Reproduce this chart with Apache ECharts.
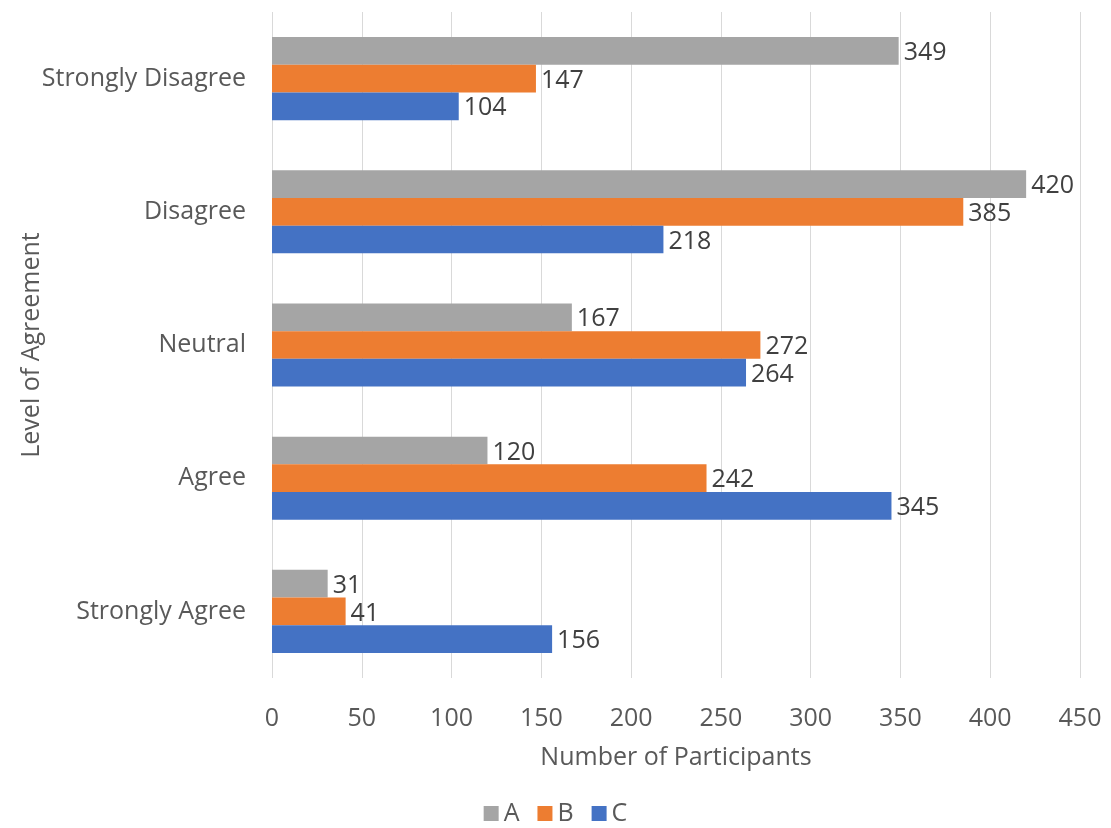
<!DOCTYPE html>
<html>
<head>
<meta charset="utf-8">
<style>
  html, body { margin: 0; padding: 0; background: #ffffff; }
  #chart { width: 1111px; height: 828px; }
</style>
<script src="https://cdn.jsdelivr.net/npm/echarts@6/dist/echarts.min.js"></script>
</head>
<body>
<div id="chart"></div>
<script>
// Survey responses per agreement level, bottom to top on the category axis
const categories = ['Strongly Agree', 'Agree', 'Neutral', 'Disagree', 'Strongly Disagree'];
const seriesA = [31, 120, 167, 420, 349];
const seriesB = [41, 242, 272, 385, 147];
const seriesC = [156, 345, 264, 218, 104];
const seriesNames = ['A', 'B', 'C'];
const xTicks = { min: 0, max: 450, interval: 50 };

const FONT = '"Open Sans", "Noto Sans", sans-serif';
const FS = 25;
const colors = ['#A5A5A5', '#ED7D31', '#4472C4'];

function barSeries(name, data, color) {
  return {
    name: name,
    type: 'bar',
    data: data,
    barWidth: 27.7,
    barGap: '0%',
    itemStyle: { color: color },
    label: {
      show: true,
      position: 'right',
      distance: 5,
      offset: [0, 2],
      color: '#404040',
      fontFamily: FONT,
      fontSize: FS
    },
    emphasis: { disabled: true },
    animation: false
  };
}

const chart = echarts.init(document.getElementById('chart'), null, { renderer: 'canvas' });
chart.setOption({
  backgroundColor: '#ffffff',
  animation: false,
  color: colors,
  textStyle: { fontFamily: FONT },
  grid: { left: 272, right: 31, top: 12, bottom: 150, containLabel: false },
  legend: {
    data: seriesNames,
    bottom: -3,
    left: 'center',
    itemWidth: 15,
    itemHeight: 15,
    itemGap: 18,
    icon: 'rect',
    textStyle: { color: '#595959', fontSize: FS, fontFamily: FONT }
  },
  xAxis: {
    type: 'value',
    min: xTicks.min,
    max: xTicks.max,
    interval: xTicks.interval,
    name: 'Number of Participants',
    nameLocation: 'middle',
    nameGap: 67,
    nameMoveOverlap: false,
    nameTextStyle: { color: '#595959', fontSize: FS, fontFamily: FONT },
    axisLine: { show: false },
    axisTick: { show: false },
    axisLabel: { color: '#595959', fontSize: FS, fontFamily: FONT, margin: 28 },
    splitLine: { show: true, lineStyle: { color: '#D9D9D9', width: 1 } }
  },
  yAxis: {
    type: 'category',
    data: categories,
    name: 'Level of Agreement',
    nameLocation: 'middle',
    nameGap: 228,
    nameRotate: 90,
    nameMoveOverlap: false,
    nameTextStyle: { color: '#595959', fontSize: FS, fontFamily: FONT },
    axisLine: { show: false },
    axisTick: { show: false },
    axisLabel: { color: '#595959', fontSize: FS, fontFamily: FONT, margin: 26 },
    splitLine: { show: false }
  },
  series: [
    barSeries(seriesNames[0], seriesA, colors[0]),
    barSeries(seriesNames[1], seriesB, colors[1]),
    barSeries(seriesNames[2], seriesC, colors[2])
  ]
});
</script>
</body>
</html>
